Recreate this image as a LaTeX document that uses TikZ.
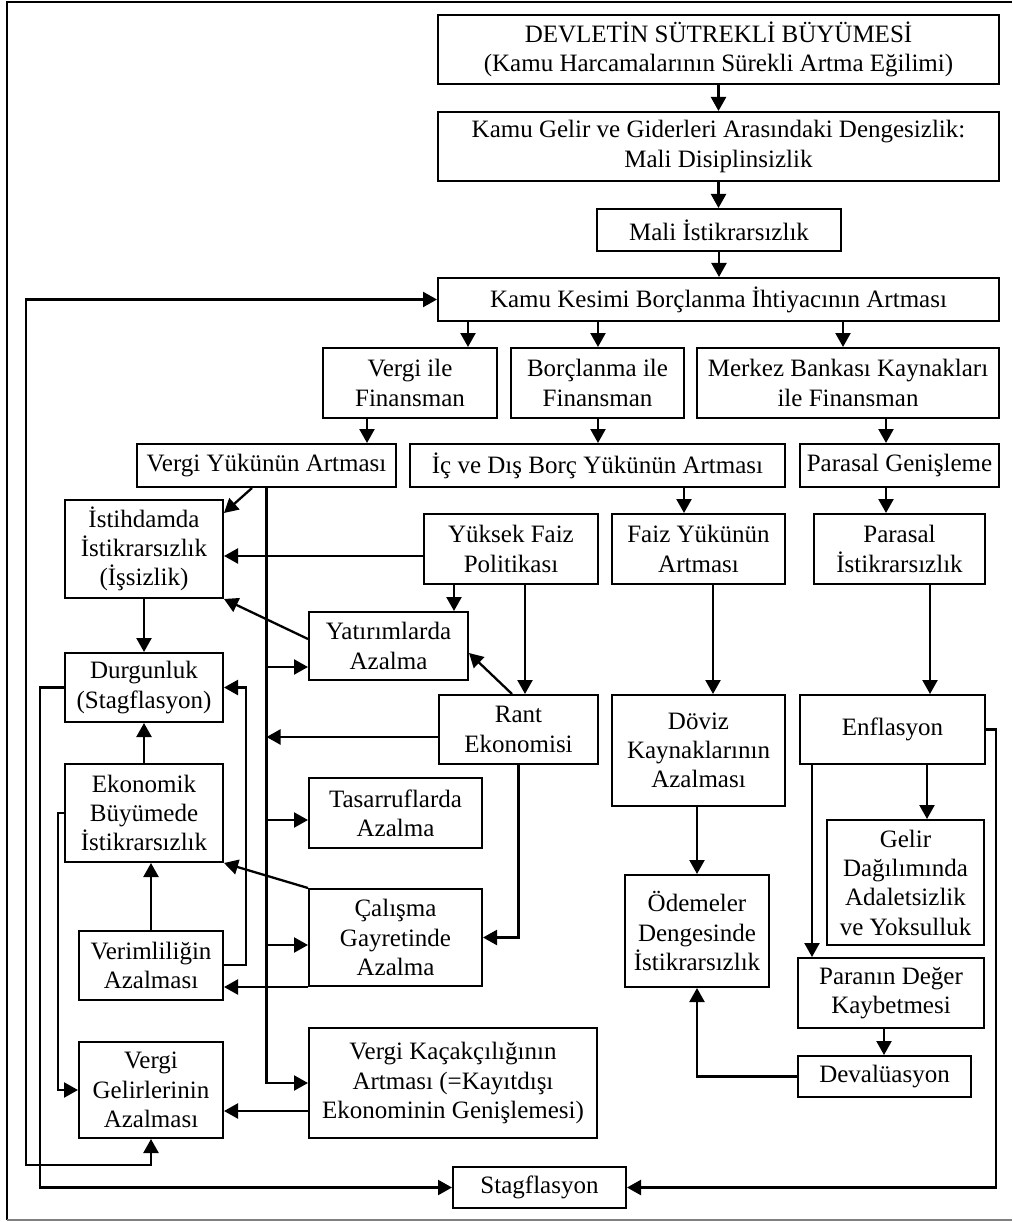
\documentclass[tikz,border=0pt]{standalone}
\usepackage{fontspec}
\setmainfont{Liberation Serif}
\usetikzlibrary{arrows.meta,calc}
\tikzset{
 box/.style={draw, line width=2pt, inner sep=0pt, align=center, font=\fontsize{25}{29.3}\selectfont},
 tip/.tip={Triangle[length=14pt,width=15pt]},
 arr/.style={line width=2.3pt, -tip},
 darr/.style={line width=2.3pt, tip-tip},
 frame/.style={line width=1.6pt},
}
\newcommand{\bx}[6]{\node[box, minimum width={(#4-#2)*1pt}, minimum height={(#5-#3)*1pt}] (#1) at ({(#2+#4)/2},{(#3+#5)/2}) {#6};}
\begin{document}
\begin{tikzpicture}[x=1pt,y=-1pt]
\useasboundingbox (0,0) rectangle (1012,1222);
\draw[frame] (1012,2) -- (7,2) -- (7,1220);
\draw[frame,gray] (7,1220) -- (1012,1220);

\bx{devlet}{438}{15}{999}{84}{DEVLETİN SÜTREKLİ BÜYÜMESİ\\(Kamu Harcamalarının Sürekli Artma Eğilimi)}
\bx{gg}{438}{112}{999}{181}{Kamu Gelir ve Giderleri Arasındaki Dengesizlik:\\Mali Disiplinsizlik}
\bx{mali}{597}{209}{841}{251}{Mali İstikrarsızlık}
\bx{kkb}{438}{278}{999}{321}{Kamu Kesimi Borçlanma İhtiyacının Artması}
\bx{vf}{323}{348}{497}{418}{Vergi ile\\Finansman}
\bx{bf}{511}{348}{684}{418}{Borçlanma ile\\Finansman}
\bx{mb}{697}{348}{999}{418}{Merkez Bankası Kaynakları\\ile Finansman}
\bx{vy}{137}{444}{396}{487}{Vergi Yükünün Artması}
\bx{id}{410}{444}{785}{487}{İç ve Dış Borç Yükünün Artması}
\bx{pg}{800}{444}{999}{487}{Parasal Genişleme}
\bx{ist}{65}{500}{223}{598}{İstihdamda\\İstikrarsızlık\\(İşsizlik)}
\bx{yf}{424}{514}{598}{584}{Yüksek Faiz\\Politikası}
\bx{fy}{612}{514}{785}{584}{Faiz Yükünün\\Artması}
\bx{pi}{814}{514}{985}{584}{Parasal\\İstikrarsızlık}
\bx{yat}{309}{612}{468}{680}{Yatırımlarda\\Azalma}
\bx{dur}{65}{653}{223}{722}{Durgunluk\\(Stagflasyon)}
\bx{rant}{439}{695}{598}{764}{Rant\\Ekonomisi}
\bx{dov}{612}{695}{785}{806}{Döviz\\Kaynaklarının\\Azalması}
\bx{enf}{800}{695}{985}{764}{Enflasyon}
\bx{eko}{65}{764}{223}{862}{Ekonomik\\Büyümede\\İstikrarsızlık}
\bx{tas}{309}{778}{482}{848}{Tasarruflarda\\Azalma}
\bx{gd}{827}{820}{984}{945}{Gelir\\Dağılımında\\Adaletsizlik\\ve Yoksulluk}
\bx{od}{625}{875}{769}{987}{Ödemeler\\Dengesinde\\İstikrarsızlık}
\bx{cal}{309}{889}{482}{986}{Çalışma\\Gayretinde\\Azalma}
\bx{ver}{79}{931}{223}{1000}{Verimliliğin\\Azalması}
\bx{pd}{798}{958}{984}{1028}{Paranın Değer\\Kaybetmesi}
\bx{vk}{309}{1028}{597}{1138}{Vergi Kaçakçılığının\\Artması (=Kayıtdışı\\Ekonominin Genişlemesi)}
\bx{vg}{79}{1042}{223}{1138}{Vergi\\Gelirlerinin\\Azalması}
\bx{dv}{798}{1056}{971}{1097}{Devalüasyon}
\bx{st}{453}{1167}{626}{1208}{Stagflasyon}

% top chain
\draw[arr] (devlet.south) -- (devlet.south |- gg.north);
\draw[arr] (gg.south) -- (gg.south |- mali.north);
\draw[arr] (mali.south) -- (mali.south |- kkb.north);
\draw[arr] (468,0 |- kkb.south) -- (468,0 |- vf.north);
\draw[arr] (598,0 |- kkb.south) -- (598,0 |- bf.north);
\draw[arr] (843,0 |- kkb.south) -- (843,0 |- mb.north);
\draw[arr] (367,0 |- vf.south) -- (367,0 |- vy.north);
\draw[arr] (598,0 |- bf.south) -- (598,0 |- id.north);
\draw[arr] (886,0 |- mb.south) -- (886,0 |- pg.north);
\draw[arr] (684,0 |- id.south) -- (684,0 |- fy.north);
\draw[arr] (886,0 |- pg.south) -- (886,0 |- pi.north);
\draw[arr] (713,0 |- fy.south) -- (713,0 |- dov.north);
\draw[arr] (930,0 |- pi.south) -- (930,0 |- enf.north);
\draw[arr] (697,0 |- dov.south) -- (697,0 |- od.north);
\draw[arr] (927,0 |- enf.south) -- (927,0 |- gd.north);
\draw[arr] (812,0 |- enf.south) -- (812,0 |- pd.north);
\draw[arr] (884,0 |- pd.south) -- (884,0 |- dv.north);
\draw[arr] (dv.west) -| (697,0 |- od.south);
\draw[arr] (enf.east) -- ++(10,0) |- (st.east);

% Vergi yuku trunk
\draw[arr] (252,0 |- vy.south) -- (ist.east |- 0,513);
\draw[arr] (vy.south) -- (vy.south |- vk.west) -- (vk.west);
\draw[arr] (vy.south |- 0,667) -- (yat.west |- 0,667);
\draw[arr] (vy.south |- 0,820) -- (tas.west |- 0,820);
\draw[arr] (vy.south |- 0,945) -- (cal.west |- 0,945);
\draw[arr] (rant.west |- 0,737) -- (vy.south |- 0,737);

% Yuksek faiz / rant
\draw[arr] (yf.west |- 0,556) -- (ist.east |- 0,556);
\draw[arr] (454,0 |- yf.south) -- (454,0 |- yat.north);
\draw[arr] (525,0 |- yf.south) -- (525,0 |- rant.north);
\draw[arr] (512,0 |- rant.north) -- (yat.east |- 0,653);
\draw[arr] (yat.west |- 0,639) -- (ist.south east);
\draw[arr] (cal.north west) -- (eko.south east);
\draw[arr] (rant.south) |- (cal.east);

% left column
\draw[arr] (ist.south) -- (dur.north);
\draw[arr] (eko.north) -- (dur.south);
\draw[arr] (151,0 |- ver.north) -- (151,0 |- eko.south);
\draw[arr] (cal.south west) -- (cal.south west -| ver.east);
\draw[arr] (ver.east |- 0,965) -- (246,965) |- (dur.east);
\draw[arr] (dur.west) -- (40,0 |- dur.west) |- (st.west);
\draw[arr] (eko.west) -- (58,0 |- eko.west) |- (vg.west);
\draw[darr] (vg.south) -- (vg.south |- 0,1165) -| (26,0 |- kkb.west) -- (kkb.west);
\draw[arr] (vk.west |- 0,1111) -- (vg.east |- 0,1111);
\end{tikzpicture}
\end{document}
